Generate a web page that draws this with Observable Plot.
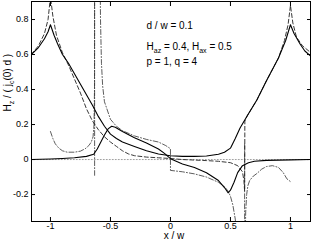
<!DOCTYPE html>
<html>
<head>
<meta charset="utf-8">
<script src="https://cdn.jsdelivr.net/npm/d3@7"></script>
<script src="https://cdn.jsdelivr.net/npm/@observablehq/plot@0.6"></script>
<style>
  html, body { margin: 0; padding: 0; background: #fff; }
  #chart { width: 311px; height: 243px; }
</style>
</head>
<body>
<div id="chart"></div>
<script>
// ---- tick values and labels ----
const xTicks = [-1, -0.5, 0, 0.5, 1];
const xTickLabels = ["-1", "-0.5", "0", "0.5", "1"];
const yTicks = [-0.2, 0, 0.2, 0.4, 0.6, 0.8];
const yTickLabels = ["-0.2", "0", "0.2", "0.4", "0.6", "0.8"];
const xLabel = "x / w";
const yLabel = "H_{z} / ( j_{c}(0) d )";
const notes = ["d / w = 0.1", "H_{az} = 0.4, H_{ax} = 0.5", "p = 1, q = 4"];

// ---- solid curve A (edge peaks) ----
const aX = [-1.16,-1.1,-1.05,-1.02,-1.0,-0.97,-0.94,-0.9,-0.85,-0.8,-0.75,-0.7,-0.65,-0.6,-0.55,-0.5,-0.45,-0.4,-0.3,-0.2,-0.1,0,0.1,0.2,0.3,0.4,0.45,0.5,0.54,0.58,0.64,0.72,0.8,0.9,0.96,1.0,1.03,1.08,1.12,1.17];
const aY = [0.6,0.64,0.69,0.73,0.77,0.71,0.66,0.6,0.55,0.49,0.43,0.37,0.31,0.245,0.19,0.145,0.12,0.1,0.075,0.05,0.032,0.022,0.018,0.018,0.02,0.03,0.042,0.065,0.12,0.18,0.25,0.34,0.45,0.58,0.68,0.77,0.72,0.66,0.62,0.59];

// ---- solid curve B (antisymmetric) ----
const bX = [-1.16,-1.0,-0.9,-0.8,-0.7,-0.64,-0.61,-0.58,-0.55,-0.52,-0.49,-0.46,-0.4,-0.3,-0.2,-0.1,-0.05,0,0.1,0.2,0.3,0.4,0.45,0.48,0.5,0.53,0.56,0.6,0.65,0.7,0.8,1.0,1.17];
const bY = [0.0,0.003,0.006,0.01,0.018,0.03,0.06,0.1,0.14,0.175,0.19,0.185,0.16,0.125,0.095,0.06,0.035,0.005,-0.025,-0.045,-0.075,-0.12,-0.16,-0.19,-0.175,-0.13,-0.075,-0.035,-0.018,-0.01,-0.005,-0.002,0.0];

// ---- dashed curve C ----
const cX = [-1.16,-1.1,-1.05,-1.02,-1.0,-0.98,-0.95,-0.9,-0.85,-0.8,-0.75,-0.7,-0.65,-0.6,-0.55,-0.5,-0.45,-0.4,-0.35,-0.3,-0.2,-0.1,0,0.1,0.2,0.3,0.4,0.5,0.56,0.6,0.612,0.618,0.62,0.64,0.72,0.8,0.9,0.95,0.98,1.0,1.02,1.05,1.1,1.17];
const cY = [0.6,0.65,0.72,0.8,0.93,0.82,0.71,0.61,0.54,0.46,0.38,0.29,0.22,0.17,0.13,0.1,0.075,0.05,0.032,0.022,0.014,0.01,0.006,0.0,-0.003,-0.006,-0.01,-0.018,-0.035,-0.07,-0.12,-0.18,0.22,0.25,0.34,0.45,0.58,0.68,0.77,0.88,0.78,0.7,0.65,0.61];

// ---- dash-dot curve D: left part, middle part, right part ----
const d1X = [-1.0,-0.98,-0.96,-0.93,-0.9,-0.86,-0.8,-0.75,-0.71,-0.68,-0.66,-0.645,-0.637,-0.633,-0.632,-0.632];
const d1Y = [0.16,0.12,0.09,0.065,0.05,0.042,0.042,0.048,0.062,0.08,0.1,0.13,0.2,0.4,1.2,-0.09];
const d2X = [-0.588,-0.583,-0.575,-0.565,-0.55,-0.5,-0.45,-0.4,-0.3,-0.2,-0.1,-0.04,0,0,0.05,0.1,0.2,0.3,0.4,0.45,0.48,0.5,0.52,0.54,0.555,0.565];
const d2Y = [1.2,0.8,0.55,0.42,0.33,0.23,0.19,0.165,0.135,0.115,0.1,0.08,0.062,-0.062,-0.066,-0.07,-0.082,-0.1,-0.13,-0.155,-0.18,-0.21,-0.26,-0.34,-0.45,-1.2];
const d3X = [0.618,0.618,0.622,0.627,0.635,0.645,0.66,0.69,0.72,0.76,0.8,0.85,0.9,0.94,0.97,1.0];
const d3Y = [0.09,-1.2,-0.5,-0.3,-0.2,-0.15,-0.12,-0.095,-0.08,-0.055,-0.04,-0.035,-0.045,-0.075,-0.11,-0.126];

// ---- zero reference line ----
const zeroX = [-1.16, 1.17];
const zeroY = [0, 0];

const pts = (xs, ys) => xs.map((x, i) => ({x, y: ys[i]}));

const font = "'Liberation Sans', Arial, Helvetica, sans-serif";

const chart = Plot.plot({
  width: 311,
  height: 243,
  marginLeft: 31,
  marginRight: 1,
  marginTop: 1,
  marginBottom: 22,
  style: {fontFamily: font, fontSize: "10px", background: "white", color: "black", overflow: "visible"},
  x: {domain: [-1.158, 1.167]},
  y: {domain: [-0.354, 0.903]},
  marks: [
    Plot.line(pts(zeroX, zeroY), {x: "x", y: "y", stroke: "#888", strokeWidth: 0.8, strokeDasharray: "1,2", clip: true}),
    Plot.line(pts(d1X, d1Y), {x: "x", y: "y", stroke: "#333", strokeWidth: 0.8, strokeDasharray: "5,2,1,2", clip: true}),
    Plot.line(pts(d2X, d2Y), {x: "x", y: "y", stroke: "#333", strokeWidth: 0.8, strokeDasharray: "5,2,1,2", clip: true}),
    Plot.line(pts(d3X, d3Y), {x: "x", y: "y", stroke: "#333", strokeWidth: 0.8, strokeDasharray: "5,2,1,2", clip: true}),
    Plot.line(pts(cX, cY), {x: "x", y: "y", stroke: "#222", strokeWidth: 0.9, strokeDasharray: "4,2.5", clip: true}),
    Plot.line(pts(aX, aY), {x: "x", y: "y", stroke: "black", strokeWidth: 1.1, clip: true}),
    Plot.line(pts(bX, bY), {x: "x", y: "y", stroke: "black", strokeWidth: 1.1, clip: true}),
    Plot.frame({stroke: "black", strokeWidth: 1}),
    Plot.axisX({anchor: "bottom", ticks: xTicks, tickSize: -4, tickPadding: 5.5, label: null, fontSize: 9,
      tickFormat: d => xTickLabels[xTicks.indexOf(d)]}),
    Plot.axisX({anchor: "top", ticks: xTicks, tickSize: -4, tickPadding: 0, label: null, tickFormat: () => ""}),
    Plot.axisY({anchor: "left", ticks: yTicks, tickSize: -4, tickPadding: 7, label: null, fontSize: 9,
      tickFormat: d => yTickLabels[yTicks.findIndex(t => Math.abs(t - d) < 1e-9)]}),
    Plot.axisY({anchor: "right", ticks: yTicks, tickSize: -4, tickPadding: 0, label: null, tickFormat: () => ""}),
    Plot.text([notes[0]], {text: d => d, frameAnchor: "top-left", dx: 115, dy: 20.3, textAnchor: "start", fontSize: 10}),
    Plot.text([notes[1]], {text: d => d, frameAnchor: "top-left", dx: 115, dy: 41.3, textAnchor: "start", fontSize: 10}),
    Plot.text([notes[2]], {text: d => d, frameAnchor: "top-left", dx: 115, dy: 56.3, textAnchor: "start", fontSize: 10}),
    Plot.text([xLabel], {text: d => d, frameAnchor: "bottom", dx: 3, dy: 17, fontSize: 10}),
    Plot.text([yLabel], {text: d => d, frameAnchor: "left", dx: -23.5, rotate: -90, fontSize: 10})
  ]
});

// turn _{...} markup into real subscript tspans
d3.select(chart).selectAll("text").each(function () {
  const t = this.textContent;
  if (!t || t.indexOf("_{") < 0) return;
  const sel = d3.select(this);
  sel.text(null);
  const parts = t.split(/_\{([^}]*)\}/);
  let lowered = false;
  parts.forEach((p, i) => {
    if (i % 2 === 1) {
      sel.append("tspan").attr("dy", 3).attr("font-size", "7px").text(p);
      lowered = true;
    } else if (p) {
      const ts = sel.append("tspan").text(p);
      if (lowered) { ts.attr("dy", -3); lowered = false; }
    }
  });
});

document.getElementById("chart").appendChild(chart);
</script>
</body>
</html>
